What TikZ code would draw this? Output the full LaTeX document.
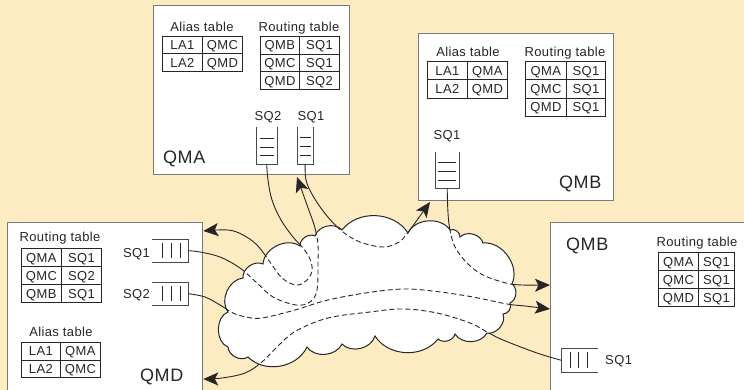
\documentclass[tikz,border=0pt]{standalone}
\usepackage{fontspec}
\setmainfont[LetterSpace=3]{Liberation Sans}
\usetikzlibrary{arrows.meta}
\definecolor{bg}{HTML}{FDEBC1}
\definecolor{boxline}{HTML}{7A7A7A}
\definecolor{ink}{HTML}{262626}

\newcommand{\mktable}[7]{%
  \foreach \ra/\rb [count=\ri] in {#7} {
    \node[cell, minimum width={(#4)-(#2)}, minimum height=#6, anchor=north west] (#1-\ri-a) at (#2,{#3+(\ri-1)*#6}) {\ra};
    \node[cell, minimum width={(#5)-(#4)}, minimum height=#6, anchor=north west] (#1-\ri-b) at (#4,{#3+(\ri-1)*#6}) {\rb};
  }}

\begin{document}
\begin{tikzpicture}[x=1pt,y=-1pt,
  box/.style={draw=boxline, fill=white, line width=1.3pt, inner sep=0pt, anchor=north west},
  cell/.style={draw=ink, line width=0.8pt, inner sep=0pt, text=ink, font=\fontsize{13pt}{15pt}\selectfont, text height=9.3pt, text depth=0pt},
  ttl/.style={text=ink, inner sep=0pt, font=\fontsize{13pt}{15pt}\selectfont, anchor=base},
  big/.style={text=ink, inner sep=0pt, font=\fontsize{18pt}{20pt}\selectfont, anchor=base west},
  qnode/.style={inner sep=0pt, anchor=north west},
  qwall/.style={draw=ink!85, line width=1pt},
  qline/.style={draw=ink, line width=0.9pt},
  conn/.style={draw=ink, line width=0.9pt},
  arr/.style={-{Stealth[length=15pt,width=13pt,inset=3.5pt]}},
  dsh/.style={dash pattern=on 5pt off 3pt}
]
\useasboundingbox (0,0) rectangle (744,390);
\clip (0,0) rectangle (744,390);
\fill[bg] (0,0) rectangle (744,390);

% ---------- boxes ----------
\node[box, minimum width=196, minimum height=169] (qmaBox) at (153,5) {};
\node[box, minimum width=195, minimum height=167] (qmbBox) at (418,33) {};
\node[box, minimum width=195, minimum height=190] (qmdBox) at (7,222) {};
\node[box, minimum width=220, minimum height=190] (qmcBox) at (550,222) {};

% ---------- QMA ----------
\node[ttl] (qmaAliasT) at (202,31.5) {Alias table};
\node[ttl] (qmaRouteT) at (299,31.5) {Routing table};
\mktable{qmaA}{162}{36}{202}{242}{17.5}{LA1/QMC, LA2/QMD}
\mktable{qmaR}{260}{36}{299}{339}{17.7}{QMB/SQ1, QMC/SQ1, QMD/SQ2}
\node[big] (qmaLbl) at (163,163.5) {QMA};
\node[ttl] (qmaSQ2l) at (268,120.7) {SQ2};
\node[ttl] (qmaSQ1l) at (311,120.7) {SQ1};
\node[qnode, minimum width=21, minimum height=37] (qmaSQ2) at (256,127) {};
\draw[qwall] (qmaSQ2.north west) -- (qmaSQ2.south west) -- (qmaSQ2.south east) -- (qmaSQ2.north east);
\foreach \yy in {138,147,155} \draw[qline] (259.5,\yy) -- (274,\yy);
\node[qnode, minimum width=16, minimum height=37] (qmaSQ1) at (297,127) {};
\draw[qwall] (qmaSQ1.north west) -- (qmaSQ1.south west) -- (qmaSQ1.south east) -- (qmaSQ1.north east);
\foreach \yy in {137,146,155} \draw[qline] (300,\yy) -- (311,\yy);

% ---------- QMB (top) ----------
\node[ttl] (qmbAliasT) at (468,56.7) {Alias table};
\node[ttl] (qmbRouteT) at (565,56.7) {Routing table};
\mktable{qmbA}{427}{61}{467}{507}{18.5}{LA1/QMA, LA2/QMD}
\mktable{qmbR}{525}{61}{566}{605}{18.3}{QMA/SQ1, QMC/SQ1, QMD/SQ1}
\node[big] (qmbLbl) at (559,188.5) {QMB};
\node[ttl] (qmbSQ1l) at (447,140) {SQ1};
\node[qnode, minimum width=24, minimum height=36] (qmbSQ1) at (435,152) {};
\draw[qwall] (qmbSQ1.north west) -- (qmbSQ1.south west) -- (qmbSQ1.south east) -- (qmbSQ1.north east);
\foreach \yy in {162,171,180} \draw[qline] (438,\yy) -- (456,\yy);

% ---------- QMD ----------
\node[ttl] (qmdRouteT) at (60,241.7) {Routing table};
\node[ttl] (qmdAliasT) at (61,336.7) {Alias table};
\mktable{qmdR}{21}{248}{61}{101}{18}{QMA/SQ1, QMC/SQ2, QMB/SQ1}
\mktable{qmdA}{21}{342}{60}{100}{17.5}{LA1/QMA, LA2/QMC}
\node[big] (qmdLbl) at (140,381.5) {QMD};
\node[ttl, anchor=base east] (qmdSQ1l) at (150,257) {SQ1};
\node[ttl, anchor=base east] (qmdSQ2l) at (150,298) {SQ2};
\node[qnode, minimum width=36, minimum height=23] (qmdSQ1) at (152,239) {};
\draw[qwall] (qmdSQ1.north west) -- (qmdSQ1.north east) -- (qmdSQ1.south east) -- (qmdSQ1.south west);
\foreach \xx in {162,171,180} \draw[qline] (\xx,243) -- (\xx,258);
\node[qnode, minimum width=36, minimum height=23] (qmdSQ2) at (152,282) {};
\draw[qwall] (qmdSQ2.north west) -- (qmdSQ2.north east) -- (qmdSQ2.south east) -- (qmdSQ2.south west);
\foreach \xx in {162,171,180} \draw[qline] (\xx,286) -- (\xx,301);

% ---------- QMB (right) ----------
\node[big] (qmcLbl) at (566,250.5) {QMB};
\node[ttl] (qmcRouteT) at (697,246.7) {Routing table};
\mktable{qmcR}{658}{252}{698}{734}{18}{QMA/SQ1, QMC/SQ1, QMD/SQ1}
\node[ttl, anchor=base west] (qmcSQ1l) at (605,364) {SQ1};
\node[qnode, minimum width=37, minimum height=24] (qmcSQ1) at (561,348) {};
\draw[qwall] (qmcSQ1.north east) -- (qmcSQ1.north west) -- (qmcSQ1.south west) -- (qmcSQ1.south east);
\foreach \xx in {570,578,587} \draw[qline] (\xx,352) -- (\xx,368);

% ---------- connector ends ----------
\coordinate (endA) at (qmdBox.east |- 0,231);
\coordinate (endB) at (297,177);
\coordinate (endC) at (430,202);
\coordinate (endD) at (qmcBox.west |- 0,285);
\coordinate (endE) at (qmcBox.west |- 0,309);
\coordinate (endF) at (qmdBox.east |- 0,379);

\def\pathA{plot[smooth, tension=0.6] coordinates {(qmaSQ2.south) (268,180) (272,200) (281,220) (293,237) (303,248) (310,259) (312,271) (306,281) (296,285) (282,278) (270,262) (257,245) (243,235) (228,230) (endA)}}
\def\pathB{plot[smooth, tension=0.6] coordinates {(qmdSQ1.east) (200,252) (220,257) (240,268) (257,283) (273,297) (296,305) (310,302) (317,290) (318,262) (318,245) (315,228) (307,205) (endB)}}
\def\pathC{plot[smooth, tension=0.6] coordinates {(qmaSQ1.south) (306,180) (313,196) (327,216) (343,232) (360,242) (383,247) (399,242) (409,231) (endC)}}
\def\pathD{plot[smooth, tension=0.6] coordinates {(qmbSQ1.south) (448,213) (450,230) (455,247) (467,263) (483,275) (506,283) (522,285) (endD)}}
\def\pathE{plot[smooth, tension=0.6] coordinates {(qmdSQ2.east) (205,297) (220,305) (233,313) (246,317) (262,318) (295,310) (328,300) (372,292) (407,289) (440,292) (473,297) (507,304) (525,306) (endE)}}
\def\pathF{plot[smooth, tension=0.6] coordinates {(qmcSQ1.west) (537,353) (503,340) (487,332) (470,323) (437,313) (403,309) (370,312) (328,318) (296,331) (278,346) (262,362) (245,373) (222,378) (endF)}}

\draw[conn, arr] \pathA;
\draw[conn, arr] \pathB;
\draw[conn, arr] \pathC;
\draw[conn, arr] \pathD;
\draw[conn, arr] \pathE;
\draw[conn, arr] \pathF;

% ---------- cloud ----------
\coordinate (C1) at (228,312);
\coordinate (C2) at (243,278);
\coordinate (C3) at (263,264);
\coordinate (C4) at (300,246);
\coordinate (C5) at (315,236);
\coordinate (C6) at (342,230);
\coordinate (C7) at (408,233);
\coordinate (C8) at (450,230);
\coordinate (C9) at (460,237);
\coordinate (C10) at (483,243);
\coordinate (C11) at (512,284);
\coordinate (C12) at (510,303);
\coordinate (C13) at (503,314);
\coordinate (C14) at (487,333);
\coordinate (C15) at (455,334);
\coordinate (C16) at (438,339);
\coordinate (C17) at (375,336);
\coordinate (C18) at (342,344);
\coordinate (C19) at (307,347);
\coordinate (C20) at (248,357);
\coordinate (C21) at (228,347);
\def\cloudpath{(C1) to[bend left=60] (C2) to[bend left=60] (C3) to[bend left=60] (C4) to[bend left=60] (C5) to[bend left=60] (C6) to[bend left=55] (C7) to[bend left=60] (C8) to[bend left=60] (C9) to[bend left=60] (C10) to[bend left=60] (C11) to[bend left=60] (C12) to[bend left=60] (C13) to[bend left=60] (C14) to[bend left=60] (C15) to[bend left=60] (C16) to[bend left=55] (C17) to[bend left=60] (C18) to[bend left=60] (C19) to[bend left=55] (C20) to[bend left=60] (C21) to[bend left=70] (C1) -- cycle}

\fill[white] \cloudpath;
\begin{scope}
  \clip \cloudpath;
  \draw[conn, dsh] \pathA;
  \draw[conn, dsh] \pathB;
  \draw[conn, dsh] \pathC;
  \draw[conn, dsh] \pathD;
  \draw[conn, dsh] \pathE;
  \draw[conn, dsh] \pathF;
\end{scope}
\draw[ink, line width=1pt] \cloudpath;
\end{tikzpicture}
\end{document}
